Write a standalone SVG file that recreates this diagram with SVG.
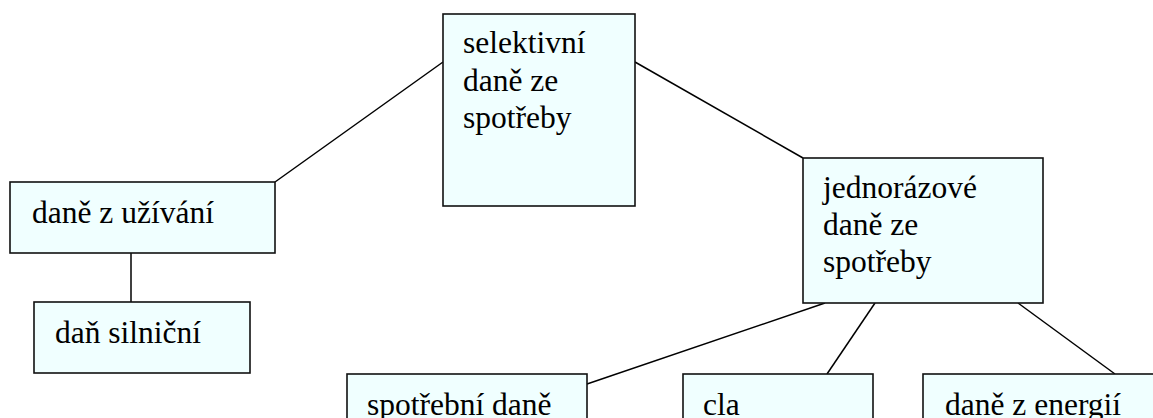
<svg xmlns="http://www.w3.org/2000/svg" width="1153" height="418" viewBox="0 0 1153 418">
<style>
.box{fill:#f0ffff;stroke:#111;stroke-width:1.6}
.t{font-family:"Liberation Serif","Times New Roman",serif;font-size:31.5px;fill:#000}
.c{stroke:#000;stroke-width:1.5;fill:none}
</style>
<rect width="1153" height="418" fill="#fff"/>
<g id="connectors">
<line class="c" x1="275" y1="182" x2="443" y2="62"/>
<line class="c" x1="635" y1="62" x2="803" y2="158"/>
<line class="c" x1="131" y1="253" x2="131" y2="302"/>
<line class="c" x1="825" y1="303" x2="587" y2="384"/>
<line class="c" x1="875" y1="303" x2="827" y2="374"/>
<line class="c" x1="1018" y1="303" x2="1115" y2="374"/>
</g>
<g id="selektivni">
<rect class="box" x="443" y="14" width="192" height="192"/>
<text class="t" x="463" y="53">selektivní</text>
<text class="t" x="463" y="91">daně ze</text>
<text class="t" x="463" y="128">spotřeby</text>
</g>
<g id="uzivani">
<rect class="box" x="10" y="182" width="265" height="71"/>
<text class="t" x="32" y="223">daně z užívání</text>
</g>
<g id="silnicni">
<rect class="box" x="34" y="302" width="216" height="71"/>
<text class="t" x="55" y="343">daň silniční</text>
</g>
<g id="jednorazove">
<rect class="box" x="803" y="158" width="240" height="145"/>
<text class="t" x="823" y="198">jednorázové</text>
<text class="t" x="823" y="235">daně ze</text>
<text class="t" x="823" y="272">spotřeby</text>
</g>
<g id="spotrebni">
<rect class="box" x="347" y="374" width="240" height="80"/>
<text class="t" x="367" y="415">spotřební daně</text>
</g>
<g id="cla">
<rect class="box" x="683" y="374" width="190" height="80"/>
<text class="t" x="703" y="415">cla</text>
</g>
<g id="energie">
<rect class="box" x="923" y="374" width="260" height="80"/>
<text class="t" x="945" y="415">daně z energií</text>
</g>
</svg>
